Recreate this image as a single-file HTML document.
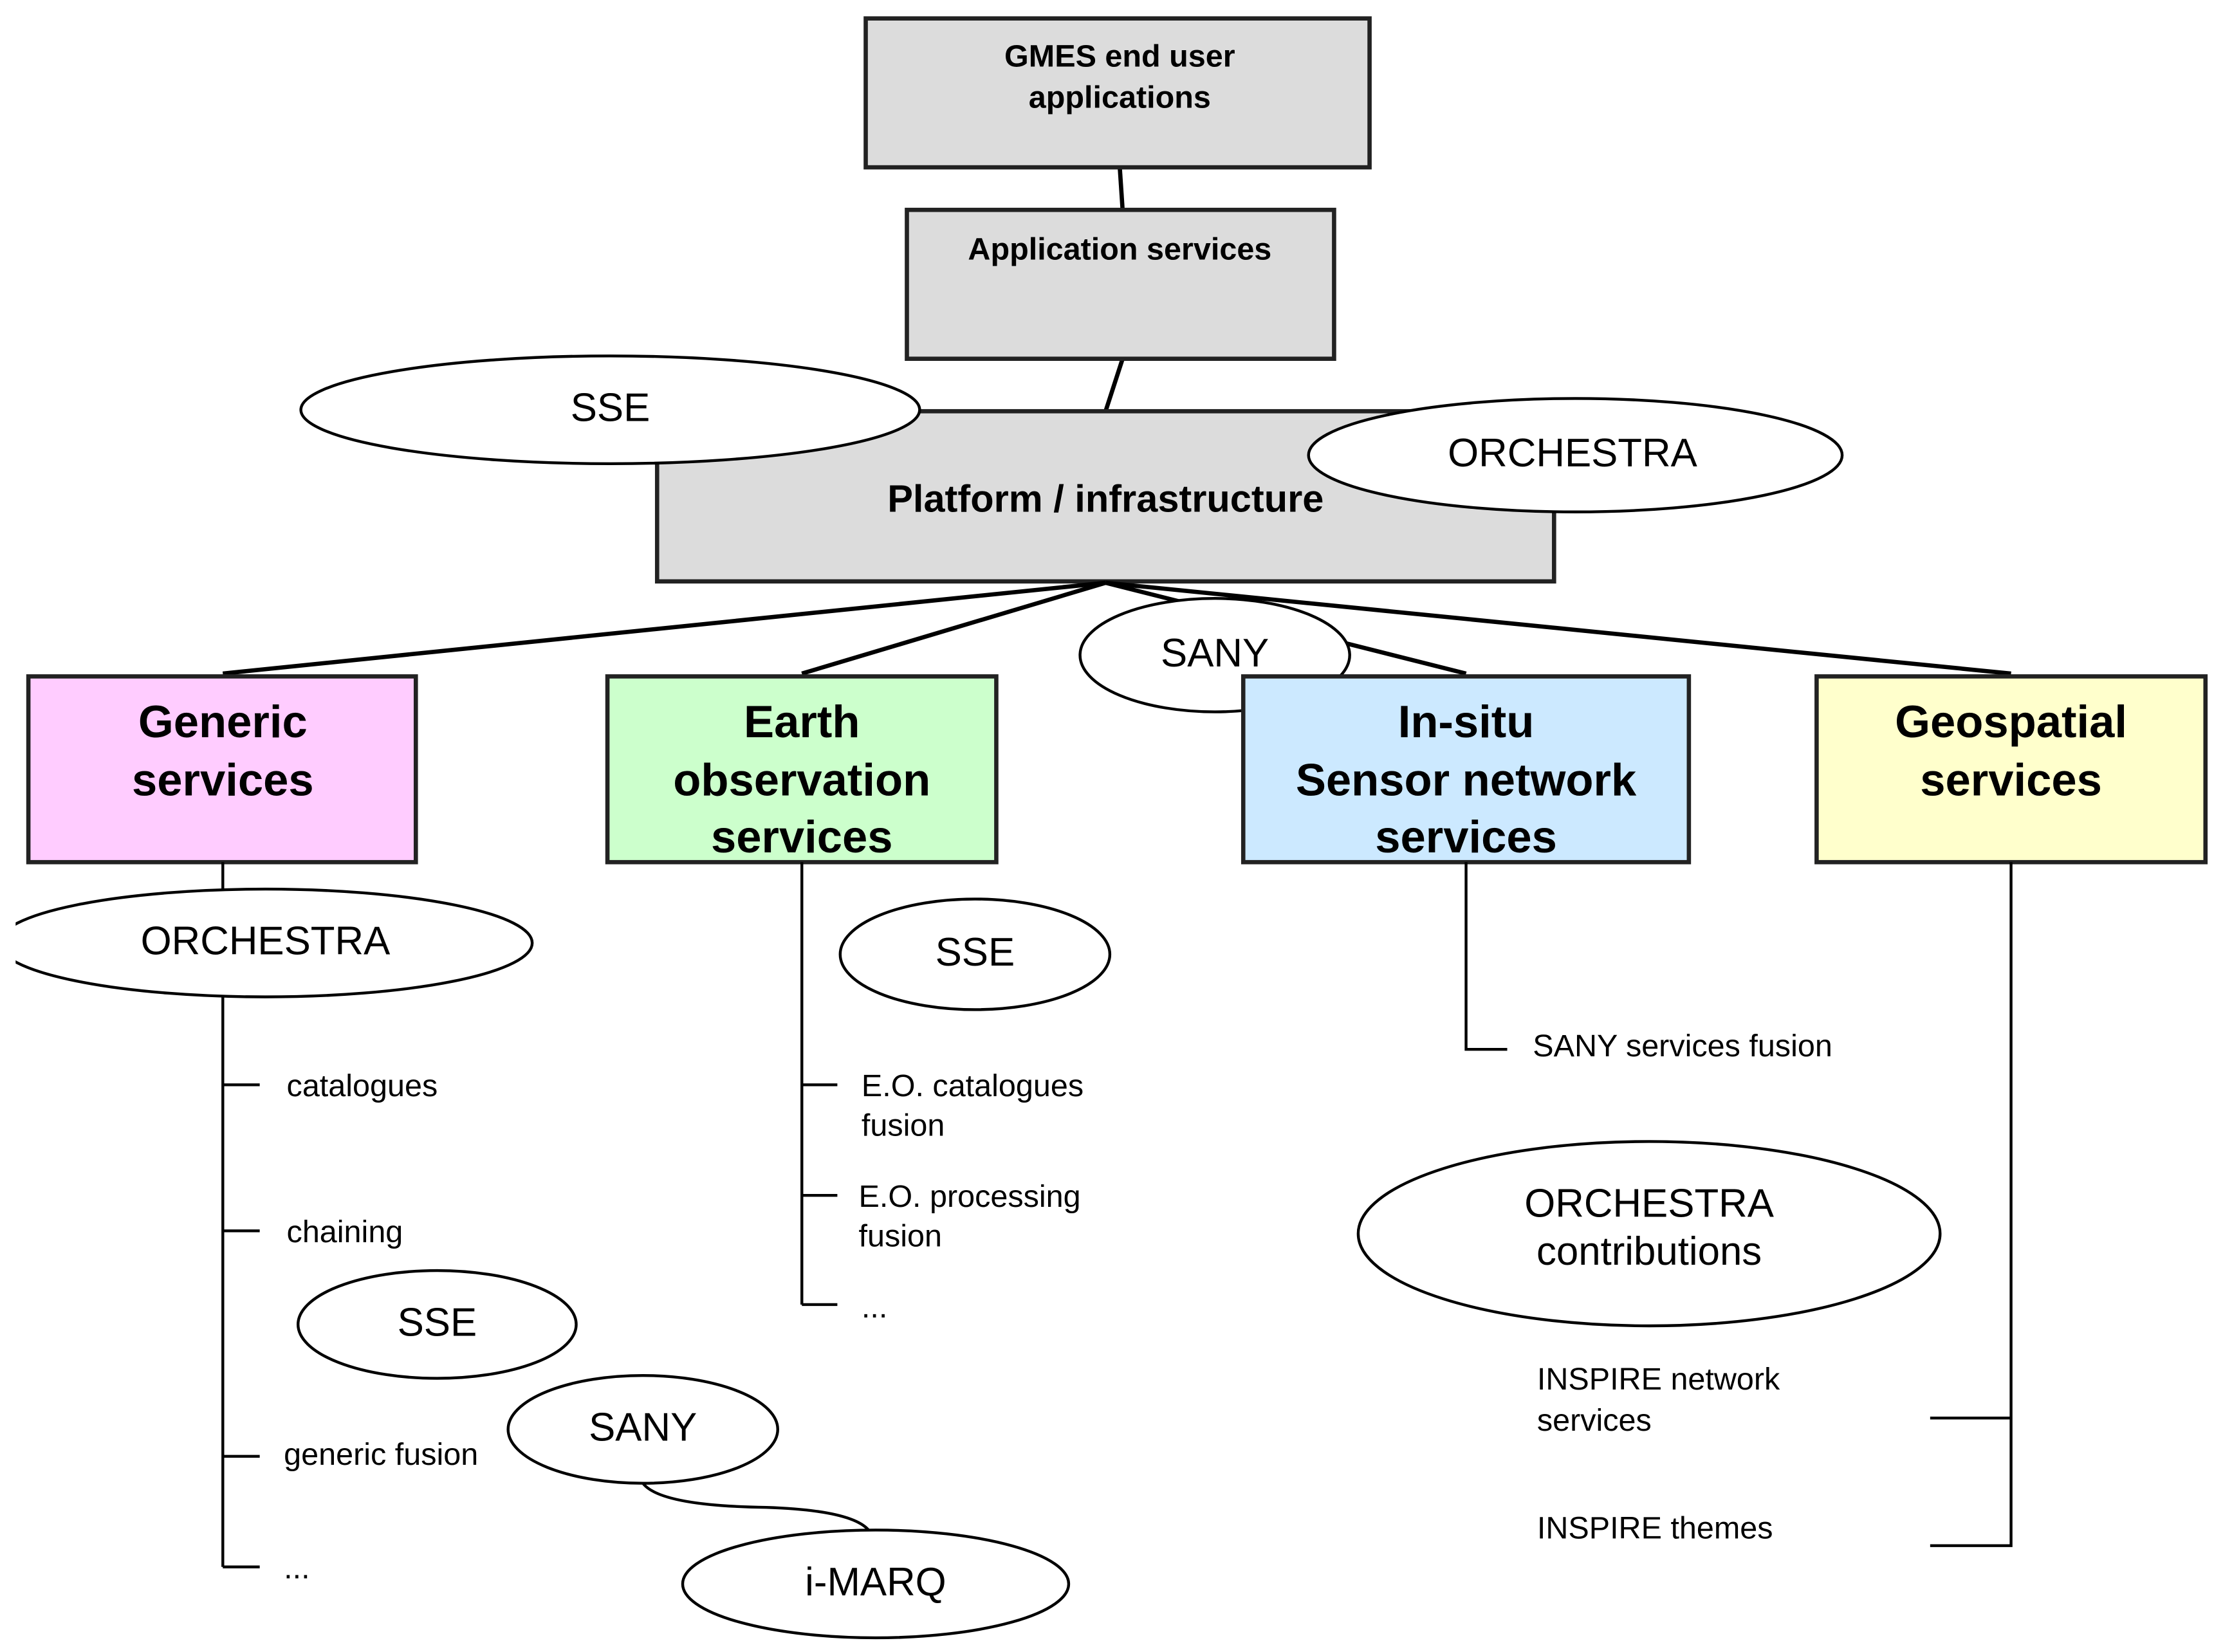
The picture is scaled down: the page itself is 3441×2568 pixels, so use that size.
<!DOCTYPE html>
<html><head><meta charset="utf-8"><style>
html,body{margin:0;padding:0;background:#fff;}
svg{display:block;}
text{font-family:"Liberation Sans",sans-serif;}
.b{font-weight:bold;}
</style></head><body>
<svg width="3441" height="2568" viewBox="0 0 1560 1165" preserveAspectRatio="none" xmlns="http://www.w3.org/2000/svg">
<g stroke="#000" stroke-width="3" fill="none">
<line x1="789" y1="118" x2="791" y2="148"/>
<line x1="791" y1="253" x2="779" y2="290"/>
</g>
<rect x="610" y="13" width="355" height="105" fill="#dcdcdc" stroke="#222" stroke-width="3"/>
<rect x="639" y="148" width="301" height="105" fill="#dcdcdc" stroke="#222" stroke-width="3"/>
<rect x="463" y="290" width="632" height="120" fill="#dcdcdc" stroke="#222" stroke-width="3"/>
<text x="789" y="47" font-size="22" class="b" text-anchor="middle">GMES end user</text>
<text x="789" y="76" font-size="22" class="b" text-anchor="middle">applications</text>
<text x="789" y="183" font-size="22" class="b" text-anchor="middle">Application services</text>
<text x="779" y="361" font-size="27" class="b" text-anchor="middle">Platform / infrastructure</text>
<ellipse cx="430" cy="289" rx="218" ry="38" fill="#fff" stroke="#000" stroke-width="2"/>
<text x="430" y="297" font-size="28" text-anchor="middle">SSE</text>
<ellipse cx="1110" cy="321" rx="188" ry="40" fill="#fff" stroke="#000" stroke-width="2"/>
<text x="1108" y="329" font-size="28" text-anchor="middle">ORCHESTRA</text>
<g stroke="#000" stroke-width="3" fill="none">
<line x1="779" y1="411" x2="157" y2="475"/>
<line x1="779" y1="411" x2="565" y2="475"/>
<line x1="779" y1="411" x2="1033" y2="475"/>
<line x1="779" y1="411" x2="1417" y2="475"/>
</g>
<ellipse cx="856" cy="462" rx="95" ry="40" fill="#fff" stroke="#000" stroke-width="2"/>
<text x="856" y="470" font-size="28" text-anchor="middle">SANY</text>
<rect x="20" y="477" width="273" height="131" fill="#ffccff" stroke="#222" stroke-width="3"/>
<rect x="428" y="477" width="274" height="131" fill="#ccffcc" stroke="#222" stroke-width="3"/>
<rect x="876" y="477" width="314" height="131" fill="#cce9ff" stroke="#222" stroke-width="3"/>
<rect x="1280" y="477" width="274" height="131" fill="#ffffcc" stroke="#222" stroke-width="3"/>
<g font-size="32" class="b" text-anchor="middle">
<text x="157" y="520">Generic</text><text x="157" y="561">services</text>
<text x="565" y="520">Earth</text><text x="565" y="561">observation</text><text x="565" y="601">services</text>
<text x="1033" y="520">In-situ</text><text x="1033" y="561">Sensor network</text><text x="1033" y="601">services</text>
<text x="1417" y="520">Geospatial</text><text x="1417" y="561">services</text>
</g>
<g stroke="#000" stroke-width="2" fill="none">
<line x1="157" y1="608" x2="157" y2="1105"/>
<line x1="157" y1="765" x2="183" y2="765"/>
<line x1="157" y1="868" x2="183" y2="868"/>
<line x1="157" y1="1027" x2="183" y2="1027"/>
<line x1="157" y1="1105" x2="183" y2="1105"/>
<line x1="565" y1="608" x2="565" y2="920"/>
<line x1="565" y1="765" x2="590" y2="765"/>
<line x1="565" y1="843" x2="590" y2="843"/>
<line x1="565" y1="920" x2="590" y2="920"/>
<polyline points="1033,608 1033,740 1062,740"/>
<polyline points="1417,608 1417,1090 1360,1090"/>
<line x1="1360" y1="1000" x2="1417" y2="1000"/>
<path d="M453,1046 Q465,1062 540,1063 Q600,1065 612,1079"/>
</g>
<g fill="#fff" stroke="#000" stroke-width="2">
<ellipse cx="187" cy="665" rx="188" ry="38"/>
<ellipse cx="308" cy="934" rx="98" ry="38"/>
<ellipse cx="453" cy="1008" rx="95" ry="38"/>
<ellipse cx="617" cy="1117" rx="136" ry="38"/>
<ellipse cx="687" cy="673" rx="95" ry="39"/>
<ellipse cx="1162" cy="870" rx="205" ry="65"/>
</g>
<rect x="0" y="620" width="11" height="90" fill="#fff"/>
<g font-size="28" text-anchor="middle">
<text x="187" y="673">ORCHESTRA</text>
<text x="308" y="942">SSE</text>
<text x="453" y="1016">SANY</text>
<text x="617" y="1125">i-MARQ</text>
<text x="687" y="681">SSE</text>
<text x="1162" y="858">ORCHESTRA</text>
<text x="1162" y="892">contributions</text>
</g>
<g font-size="22">
<text x="202" y="773">catalogues</text>
<text x="202" y="876">chaining</text>
<text x="200" y="1033">generic fusion</text>
<text x="200" y="1113">...</text>
<text x="607" y="773">E.O. catalogues</text>
<text x="607" y="801">fusion</text>
<text x="605" y="851">E.O. processing</text>
<text x="605" y="879">fusion</text>
<text x="607" y="929">...</text>
<text x="1080" y="745">SANY services fusion</text>
<text x="1083" y="980">INSPIRE network</text>
<text x="1083" y="1009">services</text>
<text x="1083" y="1085">INSPIRE themes</text>
</g>
</svg>
</body></html>
